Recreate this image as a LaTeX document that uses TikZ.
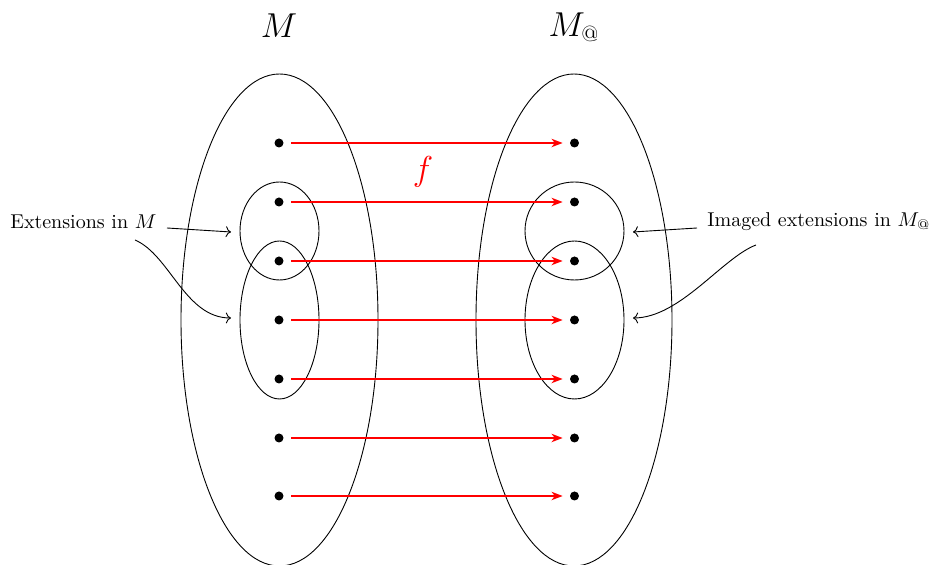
\documentclass[tikz,border=0pt]{standalone}
\usetikzlibrary{shapes.geometric,arrows.meta}
\begin{document}
\begin{tikzpicture}[x=0.5pt,y=-0.5pt,
  dot/.style={circle,fill=black,inner sep=0pt,minimum size=4.5pt},
  setshape/.style={ellipse,draw,inner sep=0pt,line width=0.45pt},
  maparrow/.style={red,line width=0.7pt,-{Stealth[length=5.5pt,width=4.2pt,inset=1.6pt]},shorten <=3.75pt,shorten >=3.5pt},
  labarrow/.style={->,line width=0.45pt},
  lab/.style={inner sep=0pt}]
\useasboundingbox (0,0) rectangle (934,565);
% big sets
\node[setshape,minimum width=98.5pt,minimum height=246pt] (bigL) at (279.5,320) {};
\node[setshape,minimum width=98pt,minimum height=246pt] (bigR) at (574,320) {};
% small sets
\node[setshape,minimum width=39.5pt,minimum height=49pt] (cL) at (279.5,231) {};
\node[setshape,minimum width=39.5pt,minimum height=79pt] (eL) at (279.5,320) {};
\node[setshape,minimum width=49.5pt,minimum height=49pt] (cR) at (574.5,231) {};
\node[setshape,minimum width=49.5pt,minimum height=79pt] (eR) at (574.5,320) {};
% titles
\node[lab] (tM) at (279,26) {\fontsize{16}{18}\selectfont $M$};
\node[lab] (tMa) at (574,27) {\fontsize{16}{18}\selectfont $M_@$};
% dots and maps
\foreach \i/\y in {1/143,2/202,3/261,4/320,5/379,6/438,7/496}{
  \node[dot] (l\i) at (279,\y) {};
  \node[dot] (r\i) at (574.5,\y) {};
  \draw[maparrow] (l\i) -- (r\i);
}
\node[lab,text=red] (f) at (423,172) {\LARGE $f$};
% labels
\node[lab,anchor=west] (extL) at (10,222) {Extensions in $M$};
\node[lab,anchor=base west] (extR) at (707,227) {Imaged extensions in $M_@$};
\coordinate (a1) at (167,228);
\coordinate (a1e) at (231,232);
\coordinate (a2) at (135,240);
\coordinate (a2e) at (231,318);
\coordinate (b1) at (697,228);
\coordinate (b1e) at (633,232);
\coordinate (b2) at (756,245);
\coordinate (b2e) at (633,318);
\draw[labarrow] (a1) -- (a1e);
\draw[labarrow] (a2) .. controls (170,255) and (185,318) .. (a2e);
\draw[labarrow] (b1) -- (b1e);
\draw[labarrow] (b2) .. controls (722,258) and (680,318) .. (b2e);
\end{tikzpicture}
\end{document}
